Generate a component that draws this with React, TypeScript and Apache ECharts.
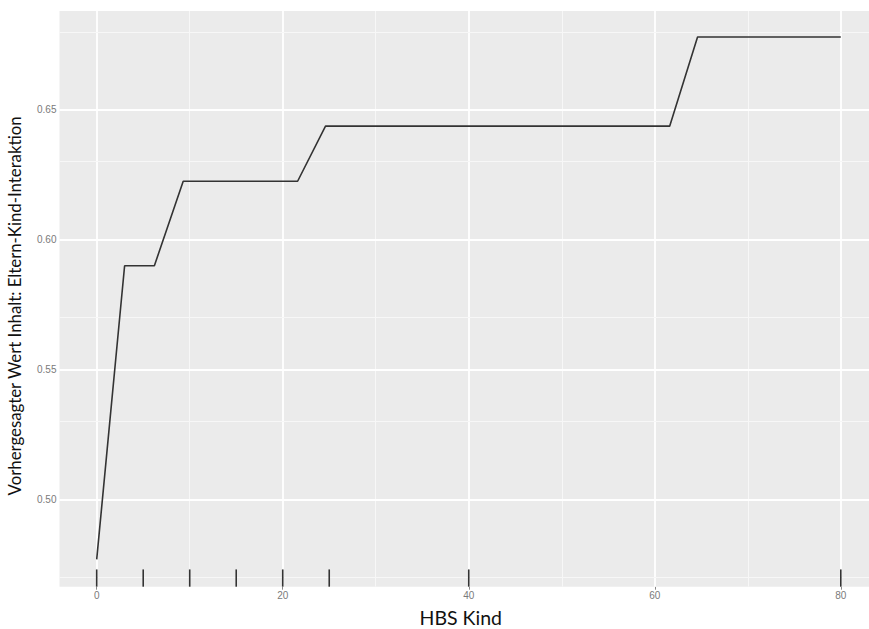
import React, { useEffect, useRef } from "react";
import * as echarts from "echarts";

// Partial dependence curve
const hbsKind = [0, 3, 6.2, 9.3, 21.6, 24.6, 61.6, 64.6, 80];
const predicted = [0.477, 0.59, 0.59, 0.6225, 0.6225, 0.6437, 0.6437, 0.678, 0.678];

// Rug (observed deciles)
const rugValues = [0, 5, 10, 15, 20, 25, 40, 80];

// Axis ticks / grid lines
const xTicks = [0, 20, 40, 60, 80];
const xMinor = [10, 30, 50, 70];
const yTicks = [0.5, 0.55, 0.6, 0.65];
const yMinor = [0.475, 0.525, 0.575, 0.625, 0.675];

const X_MIN = -4;
const X_MAX = 84;
const Y_MIN = 0.4665;
const Y_MAX = 0.688;

export default function App() {
  const ref = useRef<HTMLDivElement>(null);

  useEffect(() => {
    if (!ref.current) return;
    const chart = echarts.init(ref.current, null, { renderer: "svg" });

    const gridLines = [
      ...xTicks.map((v) => ({ xAxis: v, lineStyle: { color: "#ffffff", width: 1.8, type: "solid" } })),
      ...xMinor.map((v) => ({ xAxis: v, lineStyle: { color: "#f7f7f7", width: 1, type: "solid" } })),
      ...yTicks.map((v) => ({ yAxis: v, lineStyle: { color: "#ffffff", width: 1.8, type: "solid" } })),
      ...yMinor.map((v) => ({ yAxis: v, lineStyle: { color: "#f7f7f7", width: 1, type: "solid" } })),
    ];

    chart.setOption({
      animation: false,
      grid: {
        left: 59.5,
        top: 11,
        width: 818.5,
        height: 575.7,
        show: true,
        backgroundColor: "#EBEBEB",
        borderWidth: 0,
        containLabel: false,
        outerBoundsMode: "none",
      },
      xAxis: {
        type: "value",
        min: X_MIN,
        max: X_MAX,
        name: "HBS Kind",
        nameLocation: "middle",
        nameGap: 21,
        nameTextStyle: {
          fontFamily: "Lato",
          fontSize: 19.5,
          lineHeight: 20,
          color: "#111",
          padding: [0, 16, 0, 0],
        },
        axisLine: { show: false },
        axisTick: { show: true, customValues: xTicks, length: 3, lineStyle: { color: "#888", width: 1 } },
        axisLabel: {
          customValues: xTicks,
          color: "#7a7a7a",
          fontSize: 10,
          fontFamily: "Liberation Sans",
          margin: 4,
        },
        splitLine: { show: false },
      },
      yAxis: {
        type: "value",
        min: Y_MIN,
        max: Y_MAX,
        name: "Vorhergesagter Wert Inhalt: Eltern-Kind-Interaktion",
        nameLocation: "middle",
        nameGap: 37,
        nameRotate: 90,
        nameTextStyle: {
          fontFamily: "Lato",
          fontSize: 16.8,
          lineHeight: 17,
          color: "#111",
          padding: [0, 14, 0, 0],
        },
        axisLine: { show: false },
        axisTick: { show: true, customValues: yTicks, length: 3, lineStyle: { color: "#888", width: 1 } },
        axisLabel: {
          customValues: yTicks,
          color: "#7a7a7a",
          fontSize: 10,
          fontFamily: "Liberation Sans",
          margin: 3,
          formatter: (v: number) => v.toFixed(2),
        },
        splitLine: { show: false },
      },
      series: [
        {
          type: "line",
          data: [],
          silent: true,
          markLine: {
            silent: true,
            symbol: "none",
            z: 1,
            label: { show: false },
            data: gridLines,
          },
        },
        {
          type: "line",
          z: 4,
          data: hbsKind.map((x, i) => [x, predicted[i]]),
          showSymbol: false,
          lineStyle: { color: "#333333", width: 1.6 },
        },
        {
          type: "custom",
          z: 4,
          data: rugValues.map((v) => [v]),
          renderItem: (params: any, api: any) => {
            const x = api.value(0);
            const p0 = api.coord([x, Y_MIN]);
            const p1 = api.coord([x, Y_MIN + 0.03 * (Y_MAX - Y_MIN)]);
            return {
              type: "line",
              shape: { x1: p0[0], y1: p0[1], x2: p1[0], y2: p1[1] },
              style: { stroke: "#333333", lineWidth: 1.6 },
            };
          },
        },
      ],
    });

    return () => chart.dispose();
  }, []);

  return (
    <div
      ref={ref}
      style={{ position: "fixed", left: 0, top: 0, width: 869, height: 629, background: "#fff" }}
    />
  );
}
